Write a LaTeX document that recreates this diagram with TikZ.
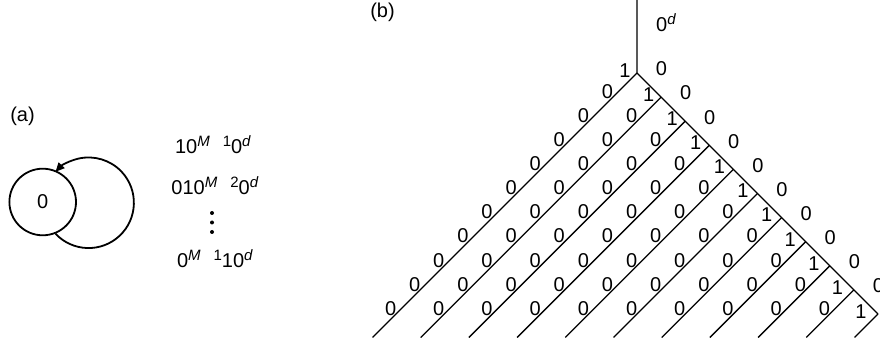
\documentclass[tikz,border=0pt]{standalone}
\usepackage{fontspec}
\setmainfont{Liberation Sans}
\usetikzlibrary{arrows.meta}
\newcommand\supr[1]{\raisebox{7pt}{\fontsize{15}{17}\selectfont #1}}
\begin{document}
\begin{tikzpicture}[x=1pt,y=-1pt,
  lbl/.style={inner sep=0pt, font=\fontsize{20}{24}\selectfont},
  ln/.style={line width=1.3pt},
  thick line/.style={line width=1.8pt},
  dotnode/.style={circle, fill=black, inner sep=0pt, minimum size=4pt}]
\useasboundingbox (0,0) rectangle (880,347);
% ---------- (a) ----------
\node[lbl] (la) at (22.5,116) {(a)};
\node[draw, circle, thick line, minimum size=66.6pt, inner sep=0pt, font=\fontsize{20}{24}\selectfont] (s) at (42.7,202) {0};
\draw[thick line, -{Triangle[length=9pt,width=8pt]}] (s.-68.5) arc[start angle=136.9, end angle=-136.9, radius=45.3];
\node[lbl, anchor=base] (w1) at (213,154) {10\supr{\textit{M}\hspace{13pt}1}0\supr{\textit{d}}};
\node[lbl, anchor=base] (w2) at (215,195) {010\supr{\textit{M}\hspace{13pt}2}0\supr{\textit{d}}};
\node[dotnode] (d1) at (212,213) {};
\node[dotnode] (d2) at (212,222.5) {};
\node[dotnode] (d3) at (212,232) {};
\node[lbl, anchor=base] (w3) at (215,268) {0\supr{\textit{M}\hspace{13pt}1}10\supr{\textit{d}}};
% ---------- (b) ----------
\node[lbl] (lb) at (382.5,12) {(b)};
\coordinate (t) at (637,-2);
\foreach \k in {0,...,10} {
  \coordinate (c\k) at ({637+24.1*\k},{73+24.1*\k});
  \coordinate (b\k) at ({372.5+48.2*\k},337.5);
}
\draw[ln] (t) -- (c0) -- (c10);
\foreach \k in {0,...,10} {
  \draw[ln] (c\k) -- (b\k);
  \node[lbl] (one\k) at ({625+23.6*\k},{70.5+24.1*\k}) {1};
}
\foreach \k in {0,...,9} {
  \foreach \i in {\k,...,9} {
    \node[lbl] (z\k-\i) at ({699+48.2*\k-(91.5+24.1*\i)},{91.5+24.1*\i}) {0};
  }
}
\foreach \m in {0,...,9} {
  \node[lbl] (r\m) at ({661.5+24.1*\m},{69+24.1*\m}) {0};
}
\node[lbl, anchor=base west] (top) at (656,32) {0\supr{\textit{d}}};
\end{tikzpicture}
\end{document}
